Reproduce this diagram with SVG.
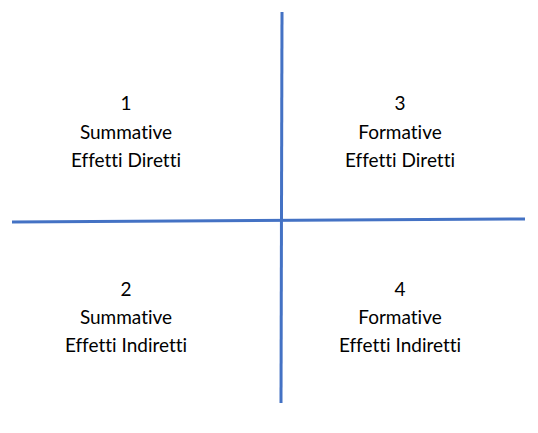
<svg xmlns="http://www.w3.org/2000/svg" width="538" height="433" viewBox="0 0 538 433">
  <style>
    .axis { stroke: #4472C4; stroke-width: 3; fill: none; }
    .lbl { font-family: "Lato", "Open Sans", "Liberation Sans", sans-serif; font-size: 19px; fill: #000; text-anchor: middle; font-variant-ligatures: none; }
  </style>
  <rect width="538" height="433" fill="#fff"/>
  <g id="connectors">
    <line class="axis" x1="282" y1="12" x2="281" y2="403"/>
    <line class="axis" x1="12" y1="222" x2="525" y2="219"/>
  </g>
  <g id="q1">
    <text class="lbl" x="126" y="110">1</text>
    <text class="lbl" x="126" y="139">Summative</text>
    <text class="lbl" x="126" y="167">Effetti Diretti</text>
  </g>
  <g id="q3">
    <text class="lbl" x="400" y="110">3</text>
    <text class="lbl" x="400" y="139">Formative</text>
    <text class="lbl" x="400" y="167">Effetti Diretti</text>
  </g>
  <g id="q2">
    <text class="lbl" x="126" y="296">2</text>
    <text class="lbl" x="126" y="324">Summative</text>
    <text class="lbl" x="126" y="352">Effetti Indiretti</text>
  </g>
  <g id="q4">
    <text class="lbl" x="400" y="296">4</text>
    <text class="lbl" x="400" y="324">Formative</text>
    <text class="lbl" x="400" y="352">Effetti Indiretti</text>
  </g>
</svg>
